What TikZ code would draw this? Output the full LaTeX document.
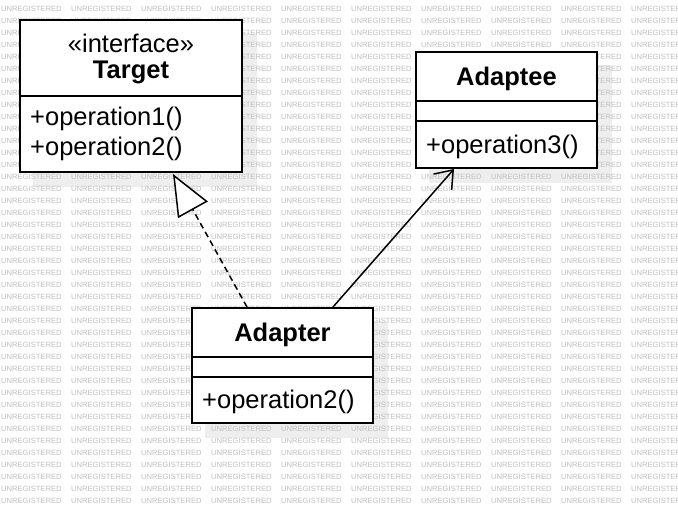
\documentclass[tikz,border=0pt]{standalone}
\usepackage{fontspec}
\setmainfont{Liberation Sans}
\usetikzlibrary{arrows.meta}
\pgfdeclarelayer{bg}
\pgfdeclarelayer{wm}
\pgfsetlayers{bg,wm,main}
\definecolor{wmgray}{RGB}{192,192,192}
\definecolor{shadowgray}{RGB}{238,238,238}
\tikzset{
  classbox/.style={draw=black, line width=2pt, fill=white, rectangle, inner sep=0pt},
  divider/.style={draw=black, line width=2pt},
  lbl/.style={inner sep=0pt, font=\fontsize{25.5}{30}\selectfont},
  blbl/.style={inner sep=0pt, font=\fontsize{25.5}{30}\selectfont\bfseries},
  wmtext/.style={inner sep=0pt, anchor=west, text=wmgray, font=\fontsize{7.6}{9}\selectfont},
  shadowfill/.style={fill=shadowgray},
  conn/.style={line width=1.5pt, draw=black},
}
\begin{document}
\begin{tikzpicture}[x=1pt,y=-1pt]
\useasboundingbox (0,0) rectangle (678,504);
% class boxes
\node[classbox, minimum width=222pt, minimum height=152pt] (target) at (131,96) {};
\node[classbox, minimum width=181pt, minimum height=116pt] (adaptee) at (506.5,110) {};
\node[classbox, minimum width=181pt, minimum height=115pt] (adapter) at (282.5,365.5) {};
% dividers
\draw[divider] ([yshift=-77pt]target.north west) -- ([yshift=-77pt]target.north east);
\draw[divider] ([yshift=-50pt]adaptee.north west) -- ([yshift=-50pt]adaptee.north east);
\draw[divider] ([yshift=-70pt]adaptee.north west) -- ([yshift=-70pt]adaptee.north east);
\draw[divider] ([yshift=-50pt]adapter.north west) -- ([yshift=-50pt]adapter.north east);
\draw[divider] ([yshift=-70pt]adapter.north west) -- ([yshift=-70pt]adapter.north east);
% texts
\node[lbl] (stereo) at (131,43.5) {«interface»};
\node[blbl] (tname) at (131,72.5) {Target};
\node[lbl, anchor=west] (top1) at (30,119) {+operation1()};
\node[lbl, anchor=west] (top2) at (30,148.5) {+operation2()};
\node[blbl] (aename) at (506.5,78.5) {Adaptee};
\node[lbl, anchor=west] (aeop3) at (426,146.5) {+operation3()};
\node[blbl] (arname) at (282.5,334.5) {Adapter};
\node[lbl, anchor=west] (arop2) at (202,401.5) {+operation2()};
% connectors
\draw[conn, dashed, dash pattern=on 6pt off 4pt, -{Triangle[open, length=41pt, width=34pt, line width=1.5pt, fill=white]}]
  ([xshift=56pt]adapter.north west) -- ([xshift=154pt, yshift=-1pt]target.south west);
\draw[conn, -{Straight Barb[length=16pt, width=24pt, line width=1.5pt]}]
  ([xshift=142pt]adapter.north west) -- ([xshift=39pt]adaptee.south west);
% shadows and background
\begin{pgfonlayer}{bg}
  \fill[white] (0,0) rectangle (678,504);
  \fill[shadowfill] ([shift={(14,14)}]target.north west) rectangle ([shift={(14,14)}]target.south east);
  \fill[shadowfill] ([shift={(14,14)}]adaptee.north west) rectangle ([shift={(14,14)}]adaptee.south east);
  \fill[shadowfill] ([shift={(14,14)}]adapter.north west) rectangle ([shift={(14,14)}]adapter.south east);
\end{pgfonlayer}
% watermark
\begin{pgfonlayer}{wm}
  \foreach \r in {0,...,41}{
    \foreach \c in {0,...,9}{
      \node[wmtext] (wm-\r-\c) at (1+70*\c, 9+12*\r) {UNREGISTERED};
    }
  }
\end{pgfonlayer}
\end{tikzpicture}
\end{document}
